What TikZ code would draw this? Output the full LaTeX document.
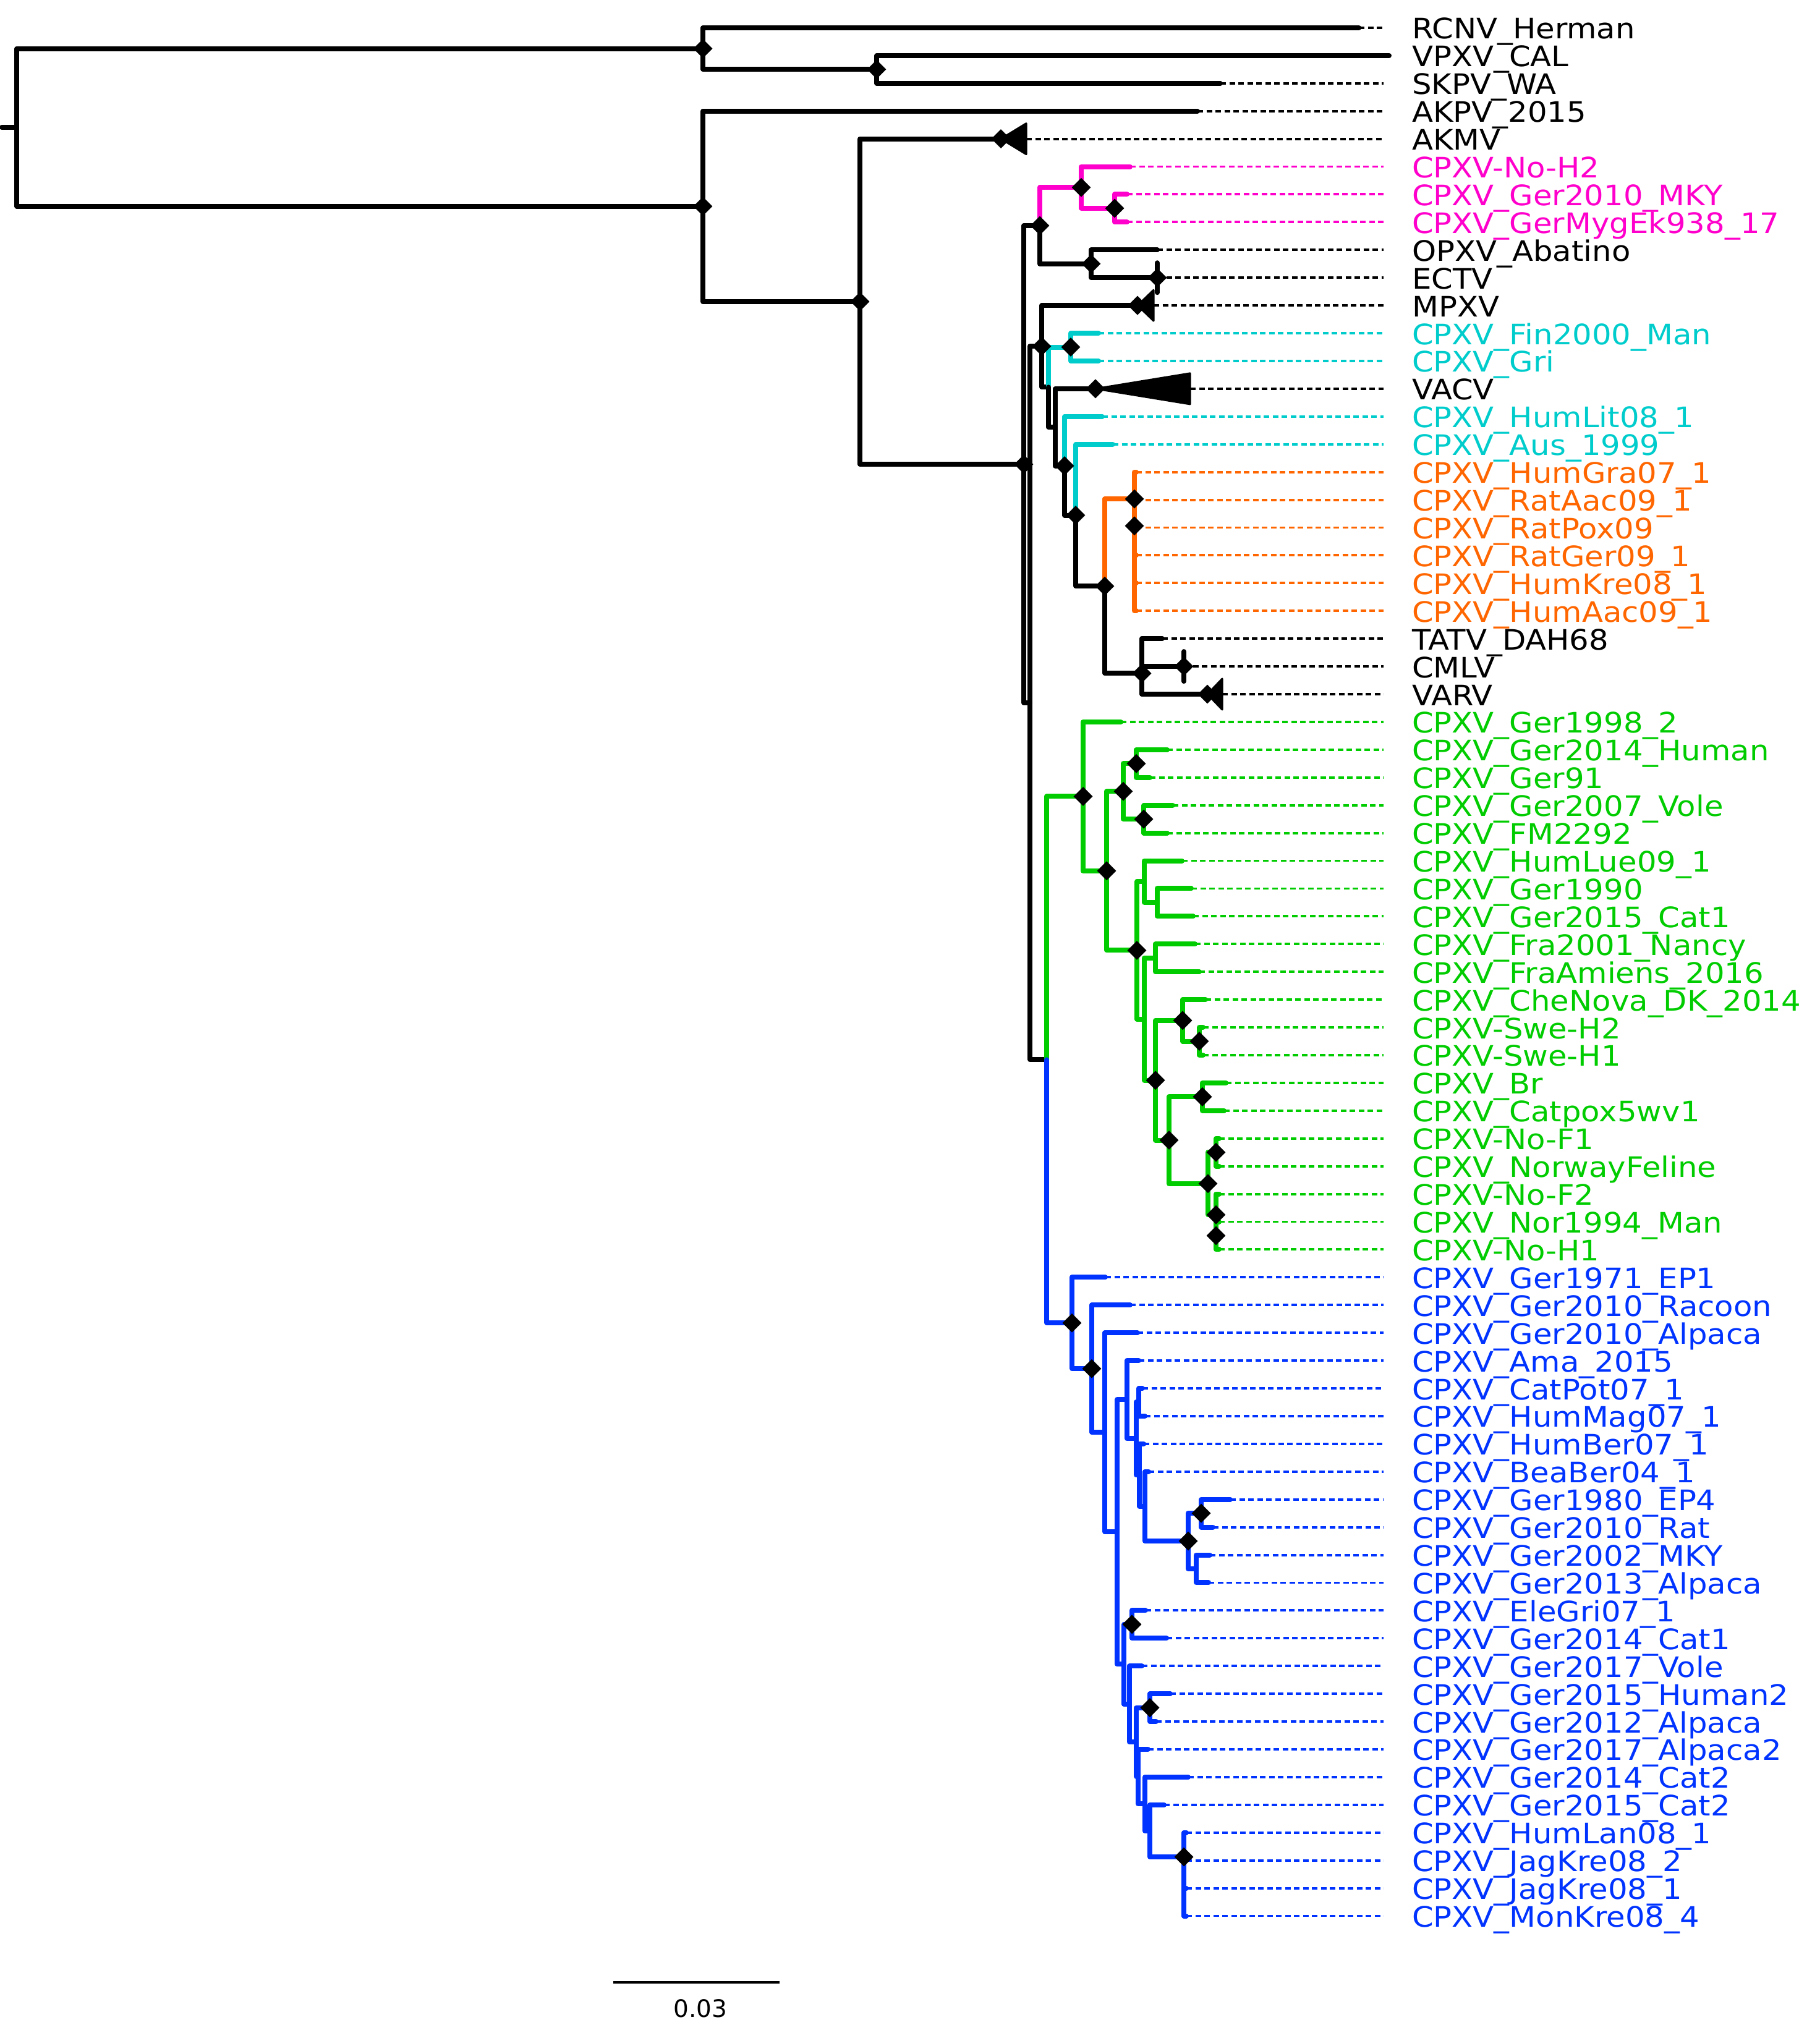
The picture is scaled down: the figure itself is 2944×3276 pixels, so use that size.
\documentclass[tikz,border=0pt]{standalone}
\usepackage{fontspec}
\usepackage{graphicx}
\usetikzlibrary{shapes.geometric}
\newfontfamily\djv{DejaVu Sans}
\definecolor{cpink}{HTML}{FF00CC}
\definecolor{ccyan}{HTML}{00CCCC}
\definecolor{corange}{HTML}{FF6600}
\definecolor{cgreen}{HTML}{00CC00}
\definecolor{cblue}{HTML}{0033FF}
\tikzset{
  branch/.style={line width=8pt, line cap=round, line join=round},
  dashl/.style={line width=3.9pt, dash pattern=on 9pt off 5.5pt},
  dmd/.style={shape=diamond, fill=black, inner sep=0pt, minimum width=31pt, minimum height=31pt},
  tri/.style={fill=black, draw=black, line width=3pt, line join=round},
  lab/.style={anchor=base west, inner sep=0pt, yshift=-18pt, font={\djv\fontsize{45.6}{50}\selectfont}},
}
\newcommand\tnode[3]{\coordinate (#1) at (#2,#3);}
\newcommand\tbr[3][black]{\draw[branch,#1] (#2) |- (#3);}
\newcommand\tdia[1]{\node[dmd] (d#1) at (#1) {};}
\newcommand\tleaf[5]{\coordinate (#1) at (#3,#2);\coordinate (#1e) at (2238,#2);\draw[dashl,#4] (#1) -- (#1e);\node[lab,text=#4] (#1t) at (2284,#2) {\scalebox{1.09}[1]{#5}};}
\begin{document}
\begin{tikzpicture}[x=1pt,y=-44.92pt]
\useasboundingbox (0pt,0pt) rectangle (2944pt,-3276pt);
% internal nodes
\tnode{Rs}{3}{4.59}
\tnode{R}{27}{4.59}
\tnode{A}{1137}{1.75}
\tnode{B}{1418}{2.5}
\tnode{C}{1137}{7.43}
\tnode{D}{1391}{10.86}
\tnode{E}{1656}{16.72}
\tnode{F}{1682}{8.125}
\tnode{P}{1749}{6.75}
\tnode{P2}{1803}{7.5}
\tnode{Q}{1765}{9.5}
\tnode{G}{1666}{25.318}
\tnode{H}{1685}{12.472}
\tnode{H2}{1696}{13.944}
\tnode{C1}{1732}{12.5}
\tnode{N1}{1707}{15.389}
\tnode{N2}{1722}{16.777}
\tnode{N3}{1740}{18.555}
\tnode{O0}{1787}{21.109}
\tnode{O1}{1835}{17.969}
\tnode{O2}{1835}{18.938}
\tnode{O3}{1835}{19.875}
\tnode{O4}{1835}{20.75}
\tnode{O5}{1835}{21.5}
\tnode{T}{1847}{24.25}
\tnode{T2}{1847}{23.5}
\tnode{GB}{1693}{38.164}
\tnode{GR}{1752}{28.682}
\tnode{G1}{1790}{31.363}
\tnode{G2}{1817}{28.5}
\tnode{G2a}{1838}{27.5}
\tnode{G2b}{1850}{29.5}
\tnode{G3}{1839}{34.227}
\tnode{G4}{1851}{31.75}
\tnode{G4b}{1872}{32.5}
\tnode{G5}{1851}{36.703}
\tnode{G6}{1869}{34.5}
\tnode{G7}{1869}{38.906}
\tnode{G8}{1913}{36.75}
\tnode{G8b}{1940}{37.5}
\tnode{G9}{1891}{41.0625}
\tnode{G10}{1945}{39.5}
\tnode{G11}{1954}{42.625}
\tnode{G12}{1967}{41.5}
\tnode{G13}{1967}{43.75}
\tnode{G14}{1967}{44.5}
\tnode{BR}{1734}{47.646}
\tnode{B1}{1766}{49.293}
\tnode{B2}{1787}{51.585}
\tnode{B3}{1807}{55.171}
\tnode{B4}{1823}{50.406}
\tnode{B5}{1838}{51.8125}
\tnode{B6}{1842}{50.5}
\tnode{B7}{1843}{53.125}
\tnode{B8}{1852}{54.25}
\tnode{B9}{1922}{55.5}
\tnode{B10}{1943}{54.5}
\tnode{B11}{1935}{56.5}
\tnode{B12}{1818}{59.936}
\tnode{B13}{1831}{58.5}
\tnode{B14}{1827}{61.371}
\tnode{B15}{1838}{62.742}
\tnode{B16}{1860}{61.5}
\tnode{B17}{1841}{63.984}
\tnode{B18}{1852}{64.969}
\tnode{B19}{1860}{65.9375}
\tnode{B20}{1915}{66.875}
\tnode{B21}{1915}{67.75}
\tnode{B22}{1915}{68.5}
% collapsed clade roots
\tnode{L5d}{1619}{5}
\tnode{L11d}{1840}{11}
\tnode{L14d}{1772}{14}
\tnode{L25d}{1953}{25}
% leaves
\tleaf{L1}{1}{2198}{black}{RCNV\_Herman}
\coordinate (L2) at (2247,2);
\node[lab] (L2t) at (2284,2) {\scalebox{1.09}[1]{VPXV\_CAL}};
\tleaf{L3}{3}{1974}{black}{SKPV\_WA}
\tleaf{L4}{4}{1937}{black}{AKPV\_2015}
\tleaf{L5}{5}{1660}{black}{AKMV}
\tleaf{L6}{6}{1828}{cpink}{CPXV-No-H2}
\tleaf{L7}{7}{1823}{cpink}{CPXV\_Ger2010\_MKY}
\tleaf{L8}{8}{1823}{cpink}{CPXV\_GerMygEk938\_17}
\tleaf{L9}{9}{1872}{black}{OPXV\_Abatino}
\tleaf{L10}{10}{1872}{black}{ECTV}
\tleaf{L11}{11}{1866}{black}{MPXV}
\tleaf{L12}{12}{1777}{ccyan}{CPXV\_Fin2000\_Man}
\tleaf{L13}{13}{1777}{ccyan}{CPXV\_Gri}
\tleaf{L14}{14}{1925}{black}{VACV}
\tleaf{L15}{15}{1783}{ccyan}{CPXV\_HumLit08\_1}
\tleaf{L16}{16}{1800}{ccyan}{CPXV\_Aus\_1999}
\tleaf{L17}{17}{1838}{corange}{CPXV\_HumGra07\_1}
\tleaf{L18}{18}{1838}{corange}{CPXV\_RatAac09\_1}
\tleaf{L19}{19}{1838}{corange}{CPXV\_RatPox09}
\tleaf{L20}{20}{1838}{corange}{CPXV\_RatGer09\_1}
\tleaf{L21}{21}{1838}{corange}{CPXV\_HumKre08\_1}
\tleaf{L22}{22}{1838}{corange}{CPXV\_HumAac09\_1}
\tleaf{L23}{23}{1880}{black}{TATV\_DAH68}
\tleaf{L24}{24}{1915}{black}{CMLV}
\tleaf{L25}{25}{1977}{black}{VARV}
\tleaf{L26}{26}{1813}{cgreen}{CPXV\_Ger1998\_2}
\tleaf{L27}{27}{1888}{cgreen}{CPXV\_Ger2014\_Human}
\tleaf{L28}{28}{1860}{cgreen}{CPXV\_Ger91}
\tleaf{L29}{29}{1897}{cgreen}{CPXV\_Ger2007\_Vole}
\tleaf{L30}{30}{1888}{cgreen}{CPXV\_FM2292}
\tleaf{L31}{31}{1912}{cgreen}{CPXV\_HumLue09\_1}
\tleaf{L32}{32}{1927}{cgreen}{CPXV\_Ger1990}
\tleaf{L33}{33}{1930}{cgreen}{CPXV\_Ger2015\_Cat1}
\tleaf{L34}{34}{1933}{cgreen}{CPXV\_Fra2001\_Nancy}
\tleaf{L35}{35}{1940}{cgreen}{CPXV\_FraAmiens\_2016}
\tleaf{L36}{36}{1950}{cgreen}{CPXV\_CheNova\_DK\_2014}
\tleaf{L37}{37}{1946}{cgreen}{CPXV-Swe-H2}
\tleaf{L38}{38}{1946}{cgreen}{CPXV-Swe-H1}
\tleaf{L39}{39}{1983}{cgreen}{CPXV\_Br}
\tleaf{L40}{40}{1980}{cgreen}{CPXV\_Catpox5wv1}
\tleaf{L41}{41}{1972}{cgreen}{CPXV-No-F1}
\tleaf{L42}{42}{1972}{cgreen}{CPXV\_NorwayFeline}
\tleaf{L43}{43}{1972}{cgreen}{CPXV-No-F2}
\tleaf{L44}{44}{1972}{cgreen}{CPXV\_Nor1994\_Man}
\tleaf{L45}{45}{1972}{cgreen}{CPXV-No-H1}
\tleaf{L46}{46}{1788}{cblue}{CPXV\_Ger1971\_EP1}
\tleaf{L47}{47}{1828}{cblue}{CPXV\_Ger2010\_Racoon}
\tleaf{L48}{48}{1840}{cblue}{CPXV\_Ger2010\_Alpaca}
\tleaf{L49}{49}{1842}{cblue}{CPXV\_Ama\_2015}
\tleaf{L50}{50}{1848}{cblue}{CPXV\_CatPot07\_1}
\tleaf{L51}{51}{1852}{cblue}{CPXV\_HumMag07\_1}
\tleaf{L52}{52}{1850}{cblue}{CPXV\_HumBer07\_1}
\tleaf{L53}{53}{1858}{cblue}{CPXV\_BeaBer04\_1}
\tleaf{L54}{54}{1990}{cblue}{CPXV\_Ger1980\_EP4}
\tleaf{L55}{55}{1962}{cblue}{CPXV\_Ger2010\_Rat}
\tleaf{L56}{56}{1957}{cblue}{CPXV\_Ger2002\_MKY}
\tleaf{L57}{57}{1955}{cblue}{CPXV\_Ger2013\_Alpaca}
\tleaf{L58}{58}{1853}{cblue}{CPXV\_EleGri07\_1}
\tleaf{L59}{59}{1887}{cblue}{CPXV\_Ger2014\_Cat1}
\tleaf{L60}{60}{1847}{cblue}{CPXV\_Ger2017\_Vole}
\tleaf{L61}{61}{1893}{cblue}{CPXV\_Ger2015\_Human2}
\tleaf{L62}{62}{1870}{cblue}{CPXV\_Ger2012\_Alpaca}
\tleaf{L63}{63}{1857}{cblue}{CPXV\_Ger2017\_Alpaca2}
\tleaf{L64}{64}{1922}{cblue}{CPXV\_Ger2014\_Cat2}
\tleaf{L65}{65}{1883}{cblue}{CPXV\_Ger2015\_Cat2}
\tleaf{L66}{66}{1919}{cblue}{CPXV\_HumLan08\_1}
\tleaf{L67}{67}{1919}{cblue}{CPXV\_JagKre08\_2}
\tleaf{L68}{68}{1919}{cblue}{CPXV\_JagKre08\_1}
\tleaf{L69}{69}{1919}{cblue}{CPXV\_MonKre08\_4}
% branches
\draw[branch] (Rs) -- (R);
\tbr{R}{A}\tbr{R}{C}
\tbr{A}{L1}\tbr{A}{B}
\tbr{B}{L2}\tbr{B}{L3}
\tbr{C}{L4}\tbr{C}{D}
\tbr{D}{L5d}\tbr{D}{E}
\tbr{E}{F}\tbr{E}{G}
\tbr[cpink]{F}{P}\tbr{F}{Q}
\tbr[cpink]{P}{L6}\tbr[cpink]{P}{P2}
\tbr[cpink]{P2}{L7}\tbr[cpink]{P2}{L8}
\tbr{Q}{L9}\tbr{Q}{L10}
\tbr{G}{H}
\tbr{H}{L11d}\tbr{H}{H2}
\tbr[ccyan]{H2}{C1}\tbr{H2}{N1}
\tbr[ccyan]{C1}{L12}\tbr[ccyan]{C1}{L13}
\tbr{N1}{L14d}\tbr{N1}{N2}
\tbr[ccyan]{N2}{L15}\tbr{N2}{N3}
\tbr[ccyan]{N3}{L16}\tbr{N3}{O0}
\tbr[corange]{O0}{O1}\tbr{O0}{T}
\tbr[corange]{O1}{L17}\tbr[corange]{O1}{O2}
\tbr[corange]{O2}{L18}\tbr[corange]{O2}{O3}
\tbr[corange]{O3}{L19}\tbr[corange]{O3}{O4}
\tbr[corange]{O4}{L20}\tbr[corange]{O4}{O5}
\tbr[corange]{O5}{L21}\tbr[corange]{O5}{L22}
\tbr{T}{T2}\tbr{T}{L25d}
\tbr{T2}{L23}\tbr{T2}{L24}
\tbr{G}{GB}
\tbr[cgreen]{GB}{GR}\tbr[cblue]{GB}{BR}
\tbr[cgreen]{GR}{L26}\tbr[cgreen]{GR}{G1}
\tbr[cgreen]{G1}{G2}\tbr[cgreen]{G1}{G3}
\tbr[cgreen]{G2}{G2a}\tbr[cgreen]{G2}{G2b}
\tbr[cgreen]{G2a}{L27}\tbr[cgreen]{G2a}{L28}
\tbr[cgreen]{G2b}{L29}\tbr[cgreen]{G2b}{L30}
\tbr[cgreen]{G3}{G4}\tbr[cgreen]{G3}{G5}
\tbr[cgreen]{G4}{L31}\tbr[cgreen]{G4}{G4b}
\tbr[cgreen]{G4b}{L32}\tbr[cgreen]{G4b}{L33}
\tbr[cgreen]{G5}{G6}\tbr[cgreen]{G5}{G7}
\tbr[cgreen]{G6}{L34}\tbr[cgreen]{G6}{L35}
\tbr[cgreen]{G7}{G8}\tbr[cgreen]{G7}{G9}
\tbr[cgreen]{G8}{L36}\tbr[cgreen]{G8}{G8b}
\tbr[cgreen]{G8b}{L37}\tbr[cgreen]{G8b}{L38}
\tbr[cgreen]{G9}{G10}\tbr[cgreen]{G9}{G11}
\tbr[cgreen]{G10}{L39}\tbr[cgreen]{G10}{L40}
\tbr[cgreen]{G11}{G12}\tbr[cgreen]{G11}{G13}
\tbr[cgreen]{G12}{L41}\tbr[cgreen]{G12}{L42}
\tbr[cgreen]{G13}{L43}\tbr[cgreen]{G13}{G14}
\tbr[cgreen]{G14}{L44}\tbr[cgreen]{G14}{L45}
\tbr[cblue]{BR}{L46}\tbr[cblue]{BR}{B1}
\tbr[cblue]{B1}{L47}\tbr[cblue]{B1}{B2}
\tbr[cblue]{B2}{L48}\tbr[cblue]{B2}{B3}
\tbr[cblue]{B3}{B4}\tbr[cblue]{B3}{B12}
\tbr[cblue]{B4}{L49}\tbr[cblue]{B4}{B5}
\tbr[cblue]{B5}{B6}\tbr[cblue]{B5}{B7}
\tbr[cblue]{B6}{L50}\tbr[cblue]{B6}{L51}
\tbr[cblue]{B7}{L52}\tbr[cblue]{B7}{B8}
\tbr[cblue]{B8}{L53}\tbr[cblue]{B8}{B9}
\tbr[cblue]{B9}{B10}\tbr[cblue]{B9}{B11}
\tbr[cblue]{B10}{L54}\tbr[cblue]{B10}{L55}
\tbr[cblue]{B11}{L56}\tbr[cblue]{B11}{L57}
\tbr[cblue]{B12}{B13}\tbr[cblue]{B12}{B14}
\tbr[cblue]{B13}{L58}\tbr[cblue]{B13}{L59}
\tbr[cblue]{B14}{L60}\tbr[cblue]{B14}{B15}
\tbr[cblue]{B15}{B16}\tbr[cblue]{B15}{B17}
\tbr[cblue]{B16}{L61}\tbr[cblue]{B16}{L62}
\tbr[cblue]{B17}{L63}\tbr[cblue]{B17}{B18}
\tbr[cblue]{B18}{L64}\tbr[cblue]{B18}{B19}
\tbr[cblue]{B19}{L65}\tbr[cblue]{B19}{B20}
\tbr[cblue]{B20}{L66}\tbr[cblue]{B20}{B21}
\tbr[cblue]{B21}{L67}\tbr[cblue]{B21}{B22}
\tbr[cblue]{B22}{L68}\tbr[cblue]{B22}{L69}
% collapsed clades
\path[tri] (L5d) -- ([yshift=25pt]L5) -- ([yshift=-25pt]L5) -- cycle;
\path[tri] (L11d) -- ([yshift=25pt]L11) -- ([yshift=-25pt]L11) -- cycle;
\path[tri] (L14d) -- ([yshift=25pt]L14) -- ([yshift=-25pt]L14) -- cycle;
\path[tri] (L25d) -- ([yshift=25pt]L25) -- ([yshift=-25pt]L25) -- cycle;
\draw[branch] ([yshift=24pt]L10) -- ([yshift=-24pt]L10);
\draw[branch] ([yshift=24pt]L24) -- ([yshift=-24pt]L24);
% support diamonds
\tdia{A}\tdia{B}\tdia{C}\tdia{D}\tdia{L5d}\tdia{E}\tdia{F}\tdia{P}\tdia{P2}\tdia{Q}
\tdia{L10}\tdia{H}\tdia{L11d}\tdia{C1}\tdia{L14d}\tdia{N2}\tdia{N3}\tdia{O0}\tdia{O1}\tdia{O2}
\tdia{T}\tdia{L24}\tdia{L25d}
\tdia{GR}\tdia{G1}\tdia{G2}\tdia{G2a}\tdia{G2b}\tdia{G3}\tdia{G7}\tdia{G8}\tdia{G8b}\tdia{G9}
\tdia{G10}\tdia{G11}\tdia{G12}\tdia{G13}\tdia{G14}
\tdia{BR}\tdia{B1}\tdia{B9}\tdia{B10}\tdia{B13}\tdia{B16}\tdia{B20}
% scale bar
\coordinate (sbL) at (992pt,-3206.7pt);
\coordinate (sbR) at (1261pt,-3206.7pt);
\draw[line width=4pt] (sbL) -- (sbR);
\node[anchor=base, inner sep=0pt, font={\djv\fontsize{39}{44}\selectfont}] (sbt) at (1133pt,-3263.3pt) {0.03};
\end{tikzpicture}
\end{document}
